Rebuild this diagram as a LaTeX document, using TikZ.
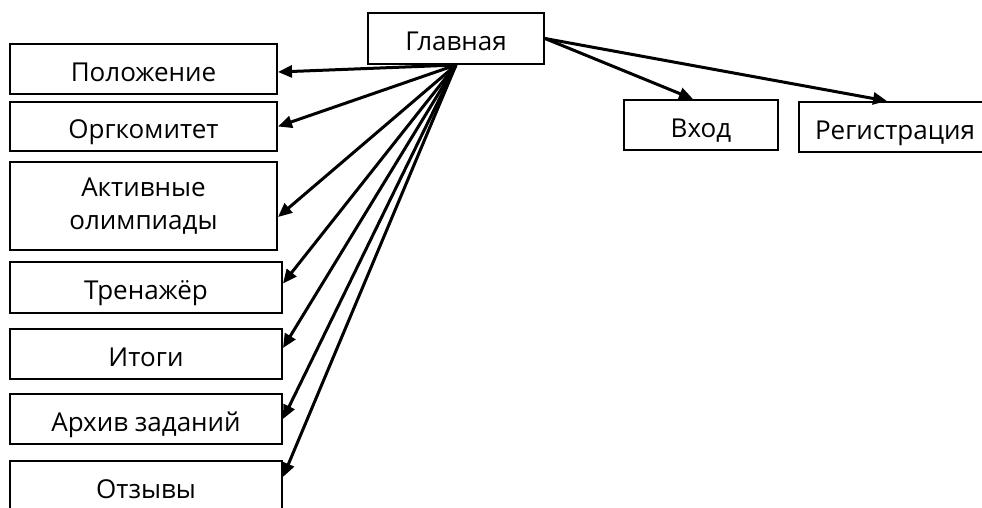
\documentclass[tikz,border=0pt]{standalone}
\usepackage{fontspec}
\setmainfont{Open Sans}
\usetikzlibrary{arrows.meta}

\begin{document}
\begin{tikzpicture}[
  x=1pt, y=-1pt,
  font=\fontsize{26}{33}\selectfont,
  box/.style={draw, line width=2pt, inner sep=0pt, align=center, text height=24pt, text depth=0pt, minimum width=267pt, minimum height=50pt},
  wbox/.style={box, minimum width=272pt},
  flow/.style={-{Triangle[length=14pt,width=12pt]}, line width=3pt}
]
\clip (0,0) rectangle (982,507);
\node[box, minimum width=176pt, minimum height=51pt] (glav) at (456,38.5) {Главная};
\node[box] (polozh) at (143.5,69) {Положение};
\node[box, minimum height=49pt] (orgkom) at (143.5,126.5) {Оргкомитет};
\node[box, minimum height=88pt, text height=, text depth=] (aktiv) at (143.5,206) {Активные\\олимпиады};
\node[wbox, minimum height=51pt] (trenazh) at (146,287.5) {Тренажёр};
\node[wbox] (itogi) at (146,354) {Итоги};
\node[wbox] (arhiv) at (146,419) {Архив заданий};
\node[wbox] (otzyvy) at (146,486) {Отзывы};
\node[box, minimum width=154pt] (vhod) at (701,125) {Вход};
\node[box, minimum width=192pt] (reg) at (895,127) {Регистрация};

\draw[flow] (glav.south) -- ([yshift=-3pt]polozh.east);
\draw[flow] (glav.south) -- (orgkom.east);
\draw[flow] (glav.south) -- ([yshift=-11pt]aktiv.east);
\draw[flow] (glav.south) -- ([yshift=4pt]trenazh.east);
\draw[flow] (glav.south) -- ([yshift=6pt]itogi.east);
\draw[flow] (glav.south) -- (arhiv.east);
\draw[flow] (glav.south) -- ([yshift=9pt]otzyvy.east);
\draw[flow] (glav.east) -- ([xshift=-8pt]vhod.north);
\draw[flow] (glav.east) -- ([xshift=-8pt]reg.north);
\end{tikzpicture}
\end{document}
